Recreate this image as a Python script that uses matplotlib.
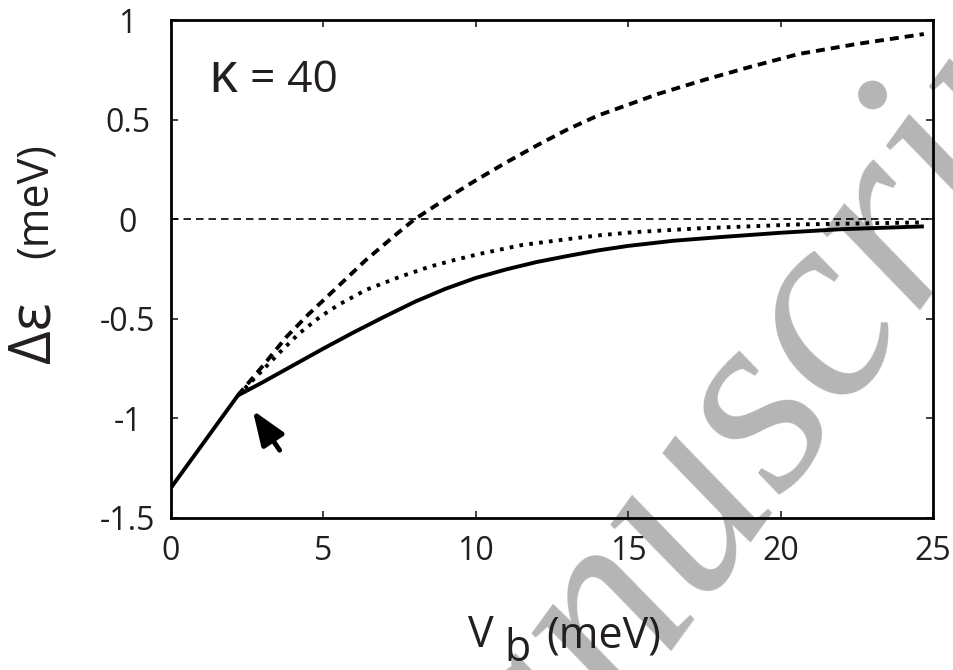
import matplotlib
matplotlib.use("Agg")
import matplotlib.pyplot as plt

plt.rcParams["font.family"] = ["Open Sans", "DejaVu Sans"]

# common low-bias branch (solid) up to the kink, then three curves
SOLID_X = [0, 2.2, 3.0, 4.0, 5.0, 6.0, 7.0, 8.0, 9.0, 10.0, 11.0, 12.0, 13.0,
           14.0, 15.0, 16.5, 18.0, 20.0, 22.0, 24.7]
SOLID_Y = [-1.35, -0.885, -0.82, -0.735, -0.65, -0.568, -0.49, -0.415, -0.35,
           -0.295, -0.252, -0.215, -0.185, -0.157, -0.134, -0.108, -0.09,
           -0.068, -0.05, -0.036]

DOTTED_X = [2.2, 3.0, 3.6, 4.2, 4.9, 5.5, 6.4, 7.5, 8.5, 9.3, 10.1, 11.5, 13.0,
            14.1, 15.2, 17.3, 20.6, 24.7]
DOTTED_Y = [-0.885, -0.76, -0.665, -0.575, -0.49, -0.43, -0.355, -0.29, -0.238,
            -0.205, -0.175, -0.13, -0.10, -0.08, -0.065, -0.046, -0.026, -0.016]

DASHED_X = [2.2, 3.0, 3.8, 4.5, 5.4, 6.4, 7.4, 8.0, 9.0, 10.0, 11.0, 12.0, 13.0,
            14.0, 15.0, 16.0, 17.5, 19.0, 20.6, 22.5, 24.7]
DASHED_Y = [-0.885, -0.74, -0.59, -0.48, -0.35, -0.205, -0.075, 0.0, 0.10,
            0.195, 0.285, 0.37, 0.45, 0.52, 0.575, 0.63, 0.70, 0.765, 0.83,
            0.88, 0.93]

X_TICKS = [0, 5, 10, 15, 20, 25]
Y_TICKS = [-1.5, -1, -0.5, 0, 0.5, 1]
Y_TICK_LABELS = ["-1.5", "-1", "-0.5", "0", "0.5", "1"]

ARROW_TIP = (2.69, -0.96)
ARROW_TAIL = (3.57, -1.16)

TXT = "#231f20"

fig = plt.figure(figsize=(9.54, 6.70), dpi=100)
ax = fig.add_axes([0.179, 0.227, 0.799, 0.743])
ax.patch.set_alpha(0)

# watermark behind everything
fig.text(0.820, 0.2746, "manuscript", rotation=54, rotation_mode="anchor",
         ha="center", va="baseline", fontsize=194, family="Liberation Serif",
         style="italic", color="#b5b5b5", zorder=-1)

ax.axhline(0, color="k", lw=1.2, dashes=(4.5, 3))
ax.plot(SOLID_X, SOLID_Y, color="k", lw=2.8, solid_capstyle="butt")
ax.plot(DOTTED_X, DOTTED_Y, color="k", lw=2.8, dashes=(0.95, 1.6),
        dash_capstyle="butt")
ax.plot(DASHED_X, DASHED_Y, color="k", lw=2.8, dashes=(2.3, 1.55),
        dash_capstyle="butt")

ax.annotate("", xy=ARROW_TIP, xytext=ARROW_TAIL,
            arrowprops=dict(arrowstyle="-|>,head_length=1.05,head_width=0.4",
                            color="k", lw=3.5, shrinkA=0, shrinkB=0,
                            mutation_scale=20))

ax.text(0.049, 0.855, "κ", transform=ax.transAxes, fontsize=40,
        va="baseline", ha="left", color=TXT)
ax.text(0.104, 0.855, "= 40", transform=ax.transAxes, fontsize=32,
        va="baseline", ha="left", color=TXT)

ax.set_xlim(0, 25)
ax.set_ylim(-1.5, 1)
ax.set_xticks(X_TICKS)
ax.set_yticks(Y_TICKS)
ax.set_yticklabels(Y_TICK_LABELS)
ax.tick_params(direction="in", length=5, width=1.2, top=True, right=True,
               labelsize=23, colors=TXT)
ax.tick_params(axis="x", pad=12)
ax.tick_params(axis="y", pad=31)
for lbl in ax.get_yticklabels():
    lbl.set_horizontalalignment("center")
for sp in ax.spines.values():
    sp.set_linewidth(2.0)

# x label: V, lowered b, (meV)
fig.text(0.4906, 0.0343, "V", fontsize=31, va="baseline", ha="left", color=TXT)
fig.text(0.529, 0.013, "b", fontsize=31, va="baseline", ha="left", color=TXT)
fig.text(0.573, 0.0343, "(meV)", fontsize=31, va="baseline", ha="left", color=TXT)

# y label
fig.text(0.0524, 0.458, "Δε", fontsize=42, rotation=90, rotation_mode="anchor",
         va="baseline", ha="left", color=TXT)
fig.text(0.0493, 0.615, "(meV)", fontsize=31, rotation=90, rotation_mode="anchor",
         va="baseline", ha="left", color=TXT)

fig.savefig("out.png", dpi=100)
